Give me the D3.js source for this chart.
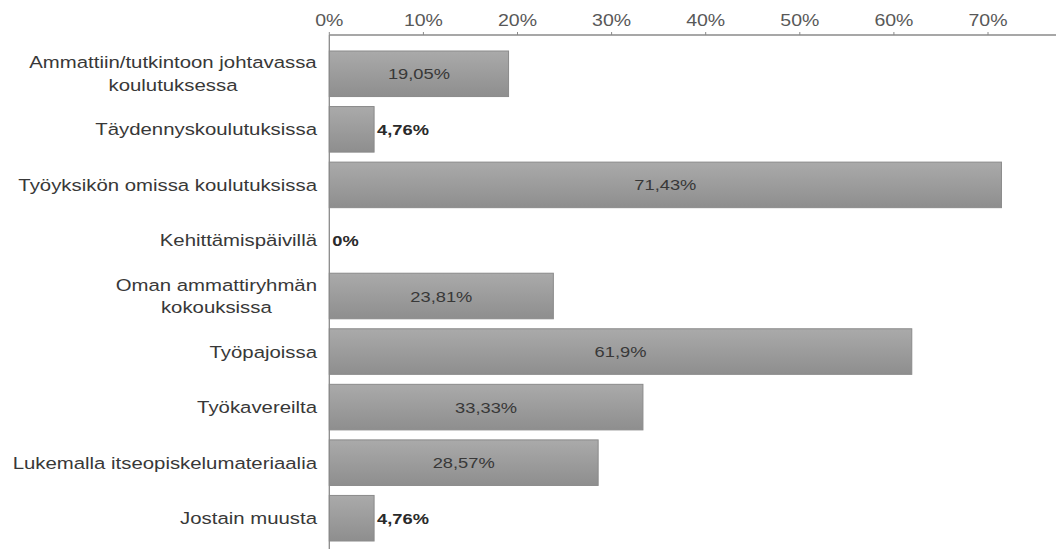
<!DOCTYPE html>
<html>
<head>
<meta charset="utf-8">
<script src="https://cdn.jsdelivr.net/npm/d3@7"></script>
<style>
  body { margin: 0; background: #fff; }
  text { font-family: "Liberation Sans", Arial, sans-serif; }
</style>
</head>
<body>
<div id="chart"></div>
<script>
var categories = [
  ["Ammattiin/tutkintoon johtavassa", "koulutuksessa"],
  ["Täydennyskoulutuksissa"],
  ["Työyksikön omissa koulutuksissa"],
  ["Kehittämispäivillä"],
  ["Oman ammattiryhmän", "kokouksissa"],
  ["Työpajoissa"],
  ["Työkavereilta"],
  ["Lukemalla itseopiskelumateriaalia"],
  ["Jostain muusta"]
];
var values = [19.05, 4.76, 71.43, 0, 23.81, 61.9, 33.33, 28.57, 4.76];
var valueLabels = ["19,05%", "4,76%", "71,43%", "0%", "23,81%", "61,9%", "33,33%", "28,57%", "4,76%"];
var ticks = [0, 10, 20, 30, 40, 50, 60, 70];

var width = 1056, height = 549;
var sx = 1.22; // the picture's text is stretched sideways

var svg = d3.select("#chart").append("svg")
  .attr("width", width)
  .attr("height", height);

var defs = svg.append("defs");
var grad = defs.append("linearGradient")
  .attr("id", "barfill")
  .attr("x1", 0).attr("y1", 0).attr("x2", 0).attr("y2", 1);
grad.append("stop").attr("offset", "0%").attr("stop-color", "#aaaaaa");
grad.append("stop").attr("offset", "100%").attr("stop-color", "#8e8e8e");

var x = d3.scaleLinear().domain([0, 10]).range([329.3, 423.4]);
x.domain([0, x.invert(1056)]).range([329.3, 1056]);

var y = d3.scaleBand()
  .domain(d3.range(categories.length))
  .range([46, 546])
  .paddingInner(0.18)
  .paddingOuter(0.09);

// x axis on top
var axisY = 35;
svg.append("line")
  .attr("x1", x(0)).attr("x2", width)
  .attr("y1", axisY).attr("y2", axisY)
  .attr("stroke", "#8a8a8a").attr("stroke-width", 1.3);

svg.selectAll(".tick")
  .data(ticks)
  .enter().append("line")
  .attr("class", "tick")
  .attr("x1", function(d) { return x(d); })
  .attr("x2", function(d) { return x(d); })
  .attr("y1", axisY - 3).attr("y2", axisY)
  .attr("stroke", "#8a8a8a");

svg.selectAll(".ticklabel")
  .data(ticks)
  .enter().append("text")
  .attr("class", "ticklabel")
  .attr("transform", function(d) { return "translate(" + x(d) + "," + 25.5 + ") scale(" + sx + ",1)"; })
  .attr("text-anchor", "middle")
  .attr("font-size", 16)
  .attr("fill", "#585858")
  .text(function(d) { return d + "%"; });

// bars
svg.selectAll(".bar")
  .data(values)
  .enter().append("rect")
  .attr("class", "bar")
  .attr("x", x(0))
  .attr("y", function(d, i) { return y(i); })
  .attr("width", function(d) { return x(d) - x(0); })
  .attr("height", y.bandwidth())
  .attr("fill", "url(#barfill)")
  .attr("stroke", "#8a8a8a")
  .attr("stroke-width", 1);

// y axis line
svg.append("line")
  .attr("x1", x(0)).attr("x2", x(0))
  .attr("y1", axisY).attr("y2", height)
  .attr("stroke", "#8a8a8a").attr("stroke-width", 1.3);

// value labels
function inside(d) { return x(d) - x(0) > 80; }

svg.selectAll(".val")
  .data(values)
  .enter().append("text")
  .attr("class", "val")
  .attr("transform", function(d, i) {
    var tx = inside(d) ? (x(0) + x(d)) / 2 : x(d) + 3;
    return "translate(" + tx + "," + (y(i) + y.bandwidth() / 2 + 5.5) + ") scale(" + sx + ",1)";
  })
  .attr("text-anchor", function(d) { return inside(d) ? "middle" : "start"; })
  .attr("font-size", 15)
  .attr("fill", function(d) { return inside(d) ? "#383838" : "#2a2a2a"; })
  .attr("font-weight", function(d) { return inside(d) ? "normal" : "bold"; })
  .text(function(d, i) { return valueLabels[i]; });

// category labels, wrapped ones are centred as a block and right aligned
var lineH = 23;
var labels = svg.selectAll(".cat")
  .data(categories)
  .enter().append("g")
  .attr("class", "cat")
  .attr("transform", function(d, i) {
    return "translate(317," + (y(i) + y.bandwidth() / 2) + ") scale(" + sx + ",1)";
  });

labels.each(function(lines) {
  var g = d3.select(this);
  var t = g.append("text")
    .attr("font-size", 16.7)
    .attr("fill", "#383838");
  t.selectAll("tspan")
    .data(lines)
    .enter().append("tspan")
    .attr("x", 0)
    .attr("y", function(d, k) { return (k - (lines.length - 1) / 2) * lineH + 6; })
    .text(function(d) { return d; });
  if (lines.length > 1) {
    var w = t.node().getBBox().width;
    t.attr("text-anchor", "middle");
    t.selectAll("tspan").attr("x", -w / 2);
  } else {
    t.attr("text-anchor", "end");
  }
});
</script>
</body>
</html>
